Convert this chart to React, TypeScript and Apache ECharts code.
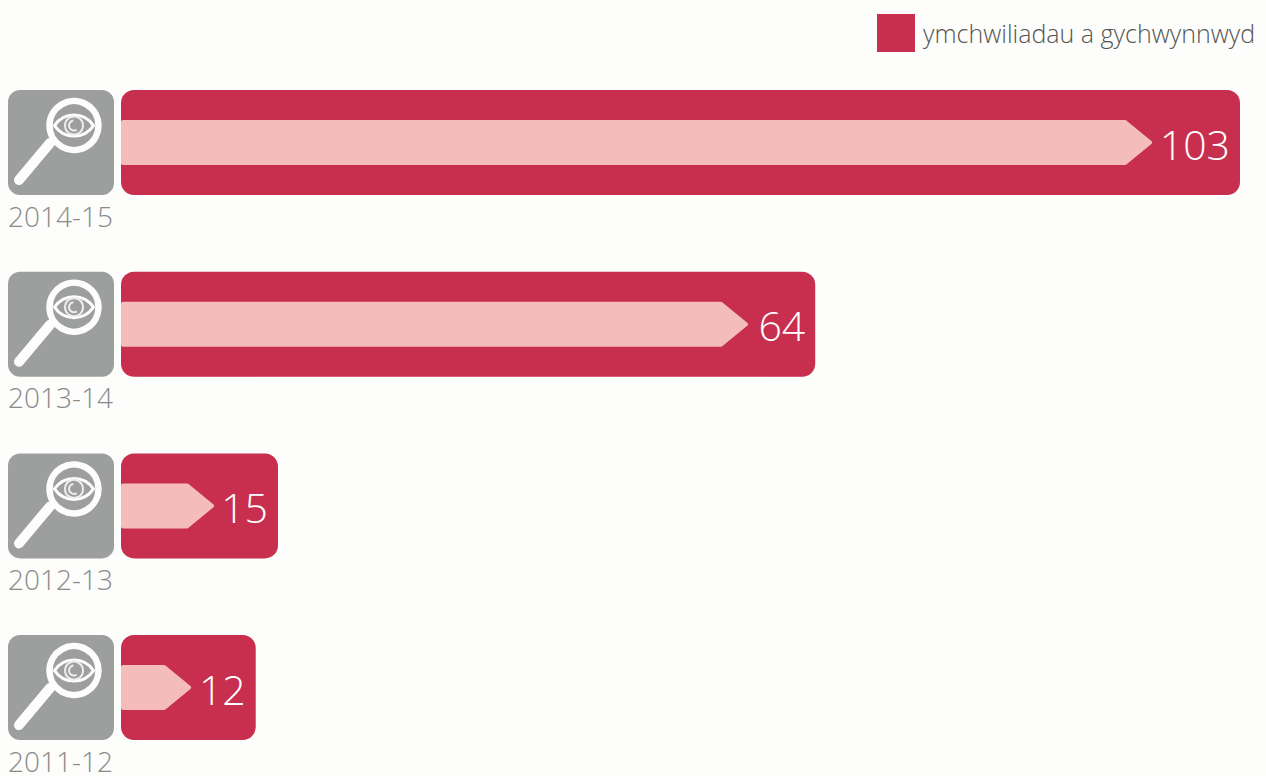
import React, { useEffect, useRef } from "react";
import * as echarts from "echarts";

const categories = ["2014-15", "2013-14", "2012-13", "2011-12"];
// printed figures
const printedValues = [103, 64, 15, 12];
// drawn bar ends, in axis units
const barEnds = [103, 63.9, 14.45, 12.4];
// drawn arrow tips, in axis units
const arrowTips = [95, 57.8, 8.65, 6.55];
const legendLabel = "ymchwiliadau a gychwynnwyd";

const RED = "#c82e4e";
const PINK = "#f4bdb9";
const GREY = "#9d9e9e";
const WHITE = "#fdfdfb";
const FONT = "'Open Sans', 'Noto Sans', sans-serif";

echarts.graphic.registerShape(
  "eyeOutline",
  echarts.graphic.extendPath("M-19.5 0 C-10 -14 10 -14 19.5 0 C10 14 -10 14 -19.5 0 Z", {}) as any
);

const rows = categories.map((_, i) => [barEnds[i], i, arrowTips[i], printedValues[i]]);

function renderRow(params: any, api: any) {
  const idx = api.value(1);
  const [x0, cy] = api.coord([0, idx]);
  const [xEnd] = api.coord([api.value(0), idx]);
  const [xTip] = api.coord([api.value(2), idx]);
  const barH = 105;
  const bandH = 45;
  const eyeX = 74;
  const eyeY = cy - 17;
  return {
    type: "group",
    children: [
      {
        type: "rect",
        shape: { x: x0, y: cy - barH / 2, width: xEnd - x0, height: barH, r: 13 },
        style: { fill: RED },
      },
      {
        type: "polygon",
        shape: {
          points: [
            [x0 + 2, cy - bandH / 2 + 2],
            [xTip - 28, cy - bandH / 2 + 2],
            [xTip - 3, cy],
            [xTip - 28, cy + bandH / 2 - 2],
            [x0 + 2, cy + bandH / 2 - 2],
          ],
        },
        style: { fill: PINK, stroke: PINK, lineWidth: 4, lineJoin: "round" },
      },
      {
        type: "text",
        style: {
          x: xEnd - 10,
          y: cy + 1,
          text: String(api.value(3)),
          fill: "#ffffff",
          font: `300 41px ${FONT}`,
          align: "right",
          verticalAlign: "middle",
        },
      },
      {
        type: "rect",
        shape: { x: 8, y: cy - barH / 2, width: 106, height: barH, r: 12 },
        style: { fill: GREY },
      },
      {
        type: "line",
        shape: { x1: 50, y1: cy + 0.5, x2: 19, y2: cy + 37.5 },
        style: { stroke: WHITE, lineWidth: 10, lineCap: "round" },
      },
      {
        type: "circle",
        shape: { cx: eyeX, cy: eyeY, r: 24.5 },
        style: { fill: GREY, stroke: WHITE, lineWidth: 6.5 },
      },
      {
        type: "eyeOutline",
        x: eyeX,
        y: eyeY,
        style: { fill: "none", stroke: WHITE, lineWidth: 3 },
      },
      {
        type: "circle",
        shape: { cx: eyeX, cy: eyeY, r: 9 },
        style: { fill: "none", stroke: "#eeeeee", lineWidth: 2 },
      },
      {
        type: "arc",
        shape: { cx: eyeX, cy: eyeY, r: 5, startAngle: 1, endAngle: 4.6 },
        style: { fill: "none", stroke: "#eeeeee", lineWidth: 2 },
      },
    ],
  };
}

export default function App() {
  const ref = useRef<HTMLDivElement>(null);

  useEffect(() => {
    document.body.style.margin = "0";
    const chart = echarts.init(ref.current!, undefined, { renderer: "svg" });
    chart.setOption({
      animation: false,
      backgroundColor: WHITE,
      legend: {
        show: true,
        left: 877,
        top: 14,
        padding: 0,
        selectedMode: false,
        icon: "rect",
        itemWidth: 38,
        itemHeight: 38,
        data: [legendLabel],
        textStyle: {
          color: "#555555",
          fontFamily: FONT,
          fontWeight: 300,
          fontSize: 25,
          padding: [0, 0, 0, 3],
        },
      },
      grid: {
        left: 121,
        top: 51.7,
        width: 1119,
        height: 726.7,
        containLabel: false,
        outerBoundsMode: "none",
      },
      xAxis: { type: "value", min: 0, max: 103, show: false },
      yAxis: {
        type: "category",
        inverse: true,
        data: categories,
        axisLine: { show: false },
        axisTick: { show: false },
        axisLabel: {
          interval: 0,
          margin: 8,
          color: "#8a8a8a",
          fontFamily: FONT,
          fontWeight: 300,
          fontSize: 28,
          verticalAlign: "top",
          padding: [59, 0, 0, 0],
        },
      },
      series: [
        {
          type: "custom",
          name: legendLabel,
          clip: false,
          itemStyle: { color: RED },
          encode: { x: 0, y: 1 },
          data: rows,
          renderItem: renderRow,
        },
      ],
    });
    return () => chart.dispose();
  }, []);

  return <div ref={ref} style={{ width: 1266, height: 776 }} />;
}
